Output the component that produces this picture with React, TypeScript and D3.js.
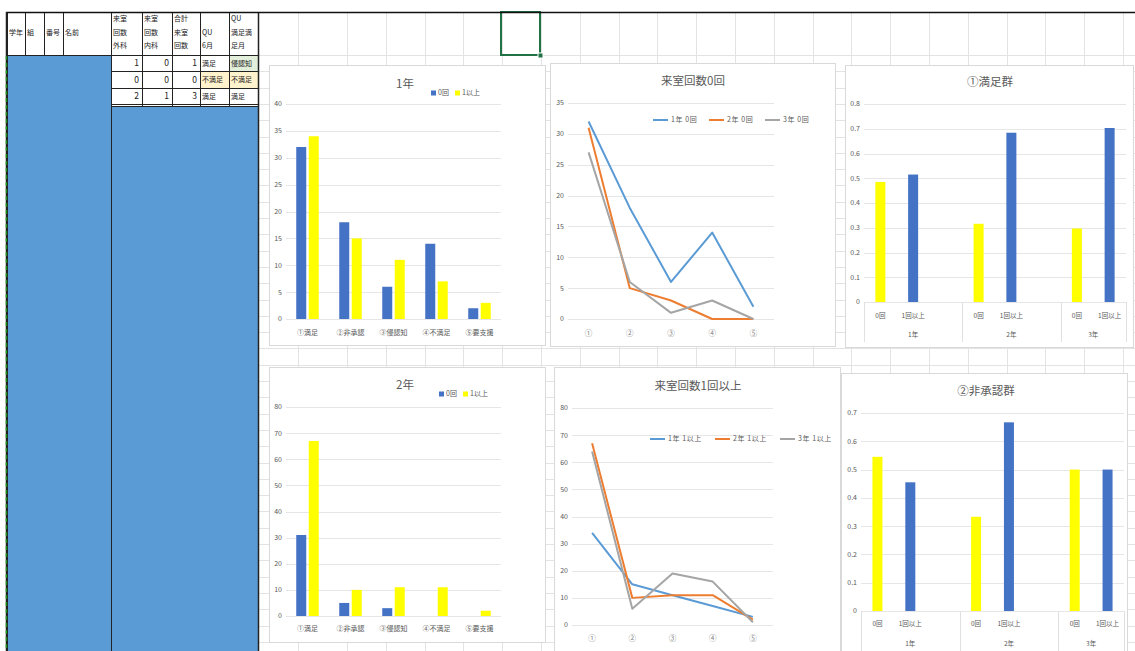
import React from 'react';
import * as d3 from 'd3';

// ---------- data ----------
const categories = ['①満足', '②非承認', '③侵認知', '④不満足', '⑤要支援'];
const lineCategories = ['①', '②', '③', '④', '⑤'];
const barSeriesNames = ['0回', '1以上'];
const grade1Zero = [32, 18, 6, 14, 2];
const grade1More = [34, 15, 11, 7, 3];
const grade2Zero = [31, 5, 3, 0, 0];
const grade2More = [67, 10, 11, 11, 2];
const grade3Zero = [27, 6, 1, 3, 0];
const grade3More = [64, 6, 19, 16, 1];
const zeroSeriesNames = ['1年 0回', '2年 0回', '3年 0回'];
const moreSeriesNames = ['1年 1以上', '2年 1以上', '3年 1以上'];
const years = ['1年', '2年', '3年'];
const visitGroups = ['0回', '1回以上'];
const satisfiedRatio = [0.485, 0.515, 0.316, 0.684, 0.297, 0.703];
const nonApprovalRatio = [0.545, 0.455, 0.333, 0.667, 0.5, 0.5];

const tableHeaders = [['学年'], ['組'], ['番号'], ['名前'], ['来室', '回数', '外科'], ['来室', '回数', '内科'], ['合計', '来室', '回数'], ['QU', '6月'], ['QU', '満足満', '足月']];
const tableRows: (string | number)[][] = [
  [1, 0, 1, '満足', '侵認知'],
  [0, 0, 0, '不満足', '不満足'],
  [2, 1, 3, '満足', '満足'],
];

// ---------- styles ----------
const W = 1135;
const H = 651;
const FONT = "'Noto Sans CJK JP', 'Noto Sans', sans-serif";
const TXT = '#595959';
const GRID = '#E3E3E3';
const BLUE_BAR = '#4472C4';
const YELLOW = '#FFFF00';
const LINE_COLORS = ['#5B9BD5', '#ED7D31', '#A5A5A5'];
const CELL_BLUE = '#5B9BD5';

type Box = { x: number; y: number; w: number; h: number };

function ChartFrame({ box }: { box: Box }) {
  return <rect x={box.x + 0.5} y={box.y + 0.5} width={box.w} height={box.h} fill="#fff" stroke="#D9D9D9" strokeWidth={1} />;
}

function YAxis({ y, x0, x1, max, step, fmt }: { y: d3.ScaleLinear<number, number>; x0: number; x1: number; max: number; step: number; fmt?: (v: number) => string }) {
  const ticks = d3.range(0, max + step / 2, step);
  return (
    <g>
      {ticks.map((t) => (
        <g key={t}>
          <line x1={x0} x2={x1} y1={Math.round(y(t)) + 0.5} y2={Math.round(y(t)) + 0.5} stroke="#E6E6E6" strokeWidth={1} />
          <text x={x0 - 4} y={y(t)} dy="0.35em" textAnchor="end" fontSize={7} fill={TXT}>
            {fmt ? fmt(t) : String(t)}
          </text>
        </g>
      ))}
    </g>
  );
}

function ClusteredBarChart(props: { box: Box; x0: number; x1: number; yTop: number; y0: number; max: number; step: number; title: string; titleX: number; titleY: number; legendX: number; legendY: number; s0: number[]; s1: number[]; labelY: number }) {
  const { box, x0, x1, yTop, y0, max, step, title, titleX, titleY, legendX, legendY, s0, s1, labelY } = props;
  const x = d3.scaleBand<string>().domain(categories).range([x0, x1]);
  const y = d3.scaleLinear().domain([0, max]).range([y0, yTop]);
  const bw = 10;
  const gap = 2.5;
  const colors = [BLUE_BAR, YELLOW];
  return (
    <g>
      <ChartFrame box={box} />
      <text x={titleX} y={titleY} textAnchor="middle" fontSize={11.5} fill={TXT}>{title}</text>
      <YAxis y={y} x0={x0} x1={x1} max={max} step={step} />
      {[s0, s1].map((s, si) =>
        s.map((v, i) => {
          const c = (x(categories[i]) as number) + x.bandwidth() / 2;
          const bx = si === 0 ? c - gap / 2 - bw : c + gap / 2;
          return <rect key={si + '-' + i} x={bx} y={y(v)} width={bw} height={y0 - y(v)} fill={colors[si]} />;
        })
      )}
      {categories.map((c) => (
        <text key={c} x={(x(c) as number) + x.bandwidth() / 2} y={labelY} dy="0.35em" textAnchor="middle" fontSize={7} fill={TXT}>{c}</text>
      ))}
      {barSeriesNames.map((n, i) => (
        <g key={n} transform={`translate(${legendX + i * 24},${legendY})`}>
          <rect x={0} y={-2.5} width={5} height={5} fill={colors[i]} />
          <text x={7} y={0} dy="0.35em" fontSize={7} fill={TXT}>{n}</text>
        </g>
      ))}
    </g>
  );
}

function MultiLineChart(props: { box: Box; x0: number; x1: number; yTop: number; y0: number; max: number; step: number; title: string; titleX: number; titleY: number; legendX: number; legendY: number; legendStep: number; series: number[][]; names: string[]; labelY: number }) {
  const { box, x0, x1, yTop, y0, max, step, title, titleX, titleY, legendX, legendY, legendStep, series, names, labelY } = props;
  const x = d3.scalePoint<string>().domain(lineCategories).range([x0, x1]).padding(0.5);
  const y = d3.scaleLinear().domain([0, max]).range([y0, yTop]);
  const line = d3.line<number>().x((_, i) => x(lineCategories[i]) as number).y((v) => y(v));
  return (
    <g>
      <ChartFrame box={box} />
      <text x={titleX} y={titleY} textAnchor="middle" fontSize={11.5} fill={TXT}>{title}</text>
      <YAxis y={y} x0={x0} x1={x1} max={max} step={step} />
      {series.map((s, i) => (
        <path key={i} d={line(s) || ''} fill="none" stroke={LINE_COLORS[i]} strokeWidth={2} strokeLinejoin="round" />
      ))}
      {lineCategories.map((c) => (
        <text key={c} x={x(c) as number} y={labelY} dy="0.35em" textAnchor="middle" fontSize={7.5} fill="#7F7F7F">{c}</text>
      ))}
      {names.map((n, i) => (
        <g key={n} transform={`translate(${legendX + i * legendStep},${legendY})`}>
          <line x1={0} x2={15} y1={0} y2={0} stroke={LINE_COLORS[i]} strokeWidth={2} />
          <text x={18} y={0} dy="0.35em" fontSize={7} fill={TXT} letterSpacing={0.6}>{n}</text>
        </g>
      ))}
    </g>
  );
}

function RatioChart(props: { box: Box; x0: number; x1: number; yTop: number; y0: number; max: number; title: string; titleX: number; titleY: number; values: number[]; catY: number; groupY: number; sepBottom: number }) {
  const { box, x0, x1, yTop, y0, max, title, titleX, titleY, values, catY, groupY, sepBottom } = props;
  // 3 slots per year (0回, 1回以上, blank), last year without the blank slot
  const keys: string[] = [];
  years.forEach((yr, yi) => {
    visitGroups.forEach((g) => keys.push(yr + '|' + g));
    if (yi < years.length - 1) keys.push(yr + '|');
  });
  const x = d3.scaleBand<string>().domain(keys).range([x0, x1]);
  const y = d3.scaleLinear().domain([0, max]).range([y0, yTop]);
  const bw = 10;
  const colors = [YELLOW, BLUE_BAR];
  const bars: { key: string; v: number; c: string; label: string }[] = [];
  years.forEach((yr, yi) => visitGroups.forEach((g, gi) => bars.push({ key: yr + '|' + g, v: values[yi * 2 + gi], c: colors[gi], label: g })));
  const groupStart = years.map((yr) => x(yr + '|0回') as number);
  const groupEnd = years.map((yr, yi) => (yi < years.length - 1 ? (x(yr + '|') as number) + x.bandwidth() : x1));
  return (
    <g>
      <ChartFrame box={box} />
      <text x={titleX} y={titleY} textAnchor="middle" fontSize={11.5} fill={TXT}>{title}</text>
      <YAxis y={y} x0={x0} x1={x1} max={max} step={0.1} fmt={(v) => (v === 0 ? '0' : d3.format('.1f')(v))} />
      {bars.map((b) => {
        const c = (x(b.key) as number) + x.bandwidth() / 2;
        return (
          <g key={b.key}>
            <rect x={c - bw / 2} y={y(b.v)} width={bw} height={y0 - y(b.v)} fill={b.c} />
            <text x={c} y={catY} dy="0.35em" textAnchor="middle" fontSize={6.5} fill={TXT}>{b.label}</text>
          </g>
        );
      })}
      {years.map((yr, yi) => (
        <text key={yr} x={(groupStart[yi] + groupEnd[yi]) / 2} y={groupY} dy="0.35em" textAnchor="middle" fontSize={6.5} fill={TXT}>{yr}</text>
      ))}
      {[x0, ...groupEnd].map((gx, i) => (
        <line key={i} x1={Math.round(gx) + 0.5} x2={Math.round(gx) + 0.5} y1={y0} y2={sepBottom} stroke="#E0E0E0" strokeWidth={1} />
      ))}
    </g>
  );
}

function Sheet() {
  const colEdges = [7, 25, 44, 63, 111, 142, 172, 200, 229, 258];
  const rowEdges = [55, 71, 88, 104];
  const gridCols = [298, 347];
  for (let gx = 385.8; gx < W; gx += 38.8) gridCols.push(gx);
  const gridRows: number[] = [];
  for (let gy = 55; gy < H; gy += 16.3) gridRows.push(gy);
  return (
    <g>
      {/* worksheet gridlines */}
      {gridRows.map((gy, i) => (
        <line key={'r' + i} x1={259} x2={W} y1={Math.round(gy) + 0.5} y2={Math.round(gy) + 0.5} stroke={GRID} strokeWidth={1} />
      ))}
      {gridCols.map((gx, i) => (
        <line key={'c' + i} x1={Math.round(gx) + 0.5} x2={Math.round(gx) + 0.5} y1={12} y2={H} stroke={GRID} strokeWidth={1} />
      ))}
      {/* selected cell */}
      <rect x={501} y={12} width={39} height={43} fill="none" stroke="#217346" strokeWidth={2} />
      <rect x={538} y={53} width={5} height={5} fill="#217346" stroke="#fff" strokeWidth={1} />

      {/* table */}
      <rect x={7} y={55} width={104} height={H - 55} fill={CELL_BLUE} />
      <rect x={111} y={107} width={147} height={H - 107} fill={CELL_BLUE} />
      <rect x={229} y={55} width={29} height={16} fill="#E2EFDA" />
      <rect x={200} y={71} width={58} height={17} fill="#FFF2CC" />
      {colEdges.map((cx, i) => (
        <line key={'tc' + i} x1={cx + 0.5} x2={cx + 0.5} y1={12} y2={i === 0 || i === 4 || i === 9 ? H : i < 4 ? 55 : 107} stroke="#222" strokeWidth={i === 9 ? 1.5 : 1} />
      ))}
      {rowEdges.map((ry, i) => (
        <line key={'tr' + i} x1={i === 0 ? 7 : 111} x2={258} y1={ry + 0.5} y2={ry + 0.5} stroke="#222" strokeWidth={1} />
      ))}
      <line x1={111} x2={258} y1={106.5} y2={106.5} stroke="#222" strokeWidth={1} />
      <line x1={6} x2={W} y1={12.5} y2={12.5} stroke="#111" strokeWidth={1.5} />
      <line x1={6.5} x2={6.5} y1={12} y2={H} stroke="#222" strokeWidth={1.5} />
      <line x1={6.5} x2={6.5} y1={56} y2={H} stroke="#1a8a1a" strokeWidth={1.5} strokeDasharray="4 3" />
      {tableHeaders.map((lines, ci) =>
        lines.map((t, li) => {
          const yy = lines.length === 1 ? 32.5 : 46 - (lines.length - 1 - li) * 13.5;
          return (
            <text key={ci + '-' + li} x={colEdges[ci] + 2} y={yy} dy="0.35em" fontSize={7} fill="#222">{t}</text>
          );
        })
      )}
      {tableRows.map((r, ri) =>
        r.map((v, vi) => {
          const ci = 4 + vi;
          const cy = (rowEdges[ri] + rowEdges[ri + 1]) / 2 + 0.5;
          const isNum = typeof v === 'number';
          return (
            <text key={ri + '-' + vi} x={isNum ? colEdges[ci + 1] - 3 : colEdges[ci] + 2} y={cy} dy="0.35em" textAnchor={isNum ? 'end' : 'start'} fontSize={isNum ? 8.5 : 7} fill="#222">{String(v)}</text>
          );
        })
      )}
    </g>
  );
}

export default function App() {
  return (
    <div style={{ position: 'absolute', left: 0, top: 0, width: W, height: H, background: '#fff' }}>
      <svg width={W} height={H} style={{ display: 'block', fontFamily: FONT }}>
        <rect x={0} y={0} width={W} height={H} fill="#fff" />
        <Sheet />
        <ClusteredBarChart box={{ x: 269, y: 65, w: 276, h: 280 }} x0={286} x1={501} yTop={104} y0={319} max={40} step={5} title="1年" titleX={405} titleY={88} legendX={431} legendY={93} s0={grade1Zero} s1={grade1More} labelY={333} />
        <ClusteredBarChart box={{ x: 269, y: 367, w: 276, h: 275 }} x0={286} x1={501} yTop={407} y0={616} max={80} step={10} title="2年" titleX={405} titleY={389} legendX={439} legendY={394} s0={grade2Zero} s1={grade2More} labelY={629} />
        <MultiLineChart box={{ x: 550, y: 63, w: 285, h: 283 }} x0={568} x1={774} yTop={103} y0={319} max={35} step={5} title="来室回数0回" titleX={693} titleY={85} legendX={653} legendY={120} legendStep={56} series={[grade1Zero, grade2Zero, grade3Zero]} names={zeroSeriesNames} labelY={333} />
        <MultiLineChart box={{ x: 554, y: 367, w: 286, h: 290 }} x0={572} x1={773} yTop={408} y0={625} max={80} step={10} title="来室回数1回以上" titleX={698} titleY={390} legendX={650} legendY={439} legendStep={65} series={[grade1More, grade2More, grade3More]} names={moreSeriesNames} labelY={638} />
        <RatioChart box={{ x: 845, y: 65, w: 288, h: 282 }} x0={864} x1={1126} yTop={104} y0={302} max={0.8} title="①満足群" titleX={990} titleY={86} values={satisfiedRatio} catY={316} groupY={335} sepBottom={342} />
        <RatioChart box={{ x: 841, y: 373, w: 286, h: 290 }} x0={861} x1={1124} yTop={413} y0={611} max={0.7} title="②非承認群" titleX={986} titleY={395} values={nonApprovalRatio} catY={624} groupY={644} sepBottom={H} />
      </svg>
    </div>
  );
}
